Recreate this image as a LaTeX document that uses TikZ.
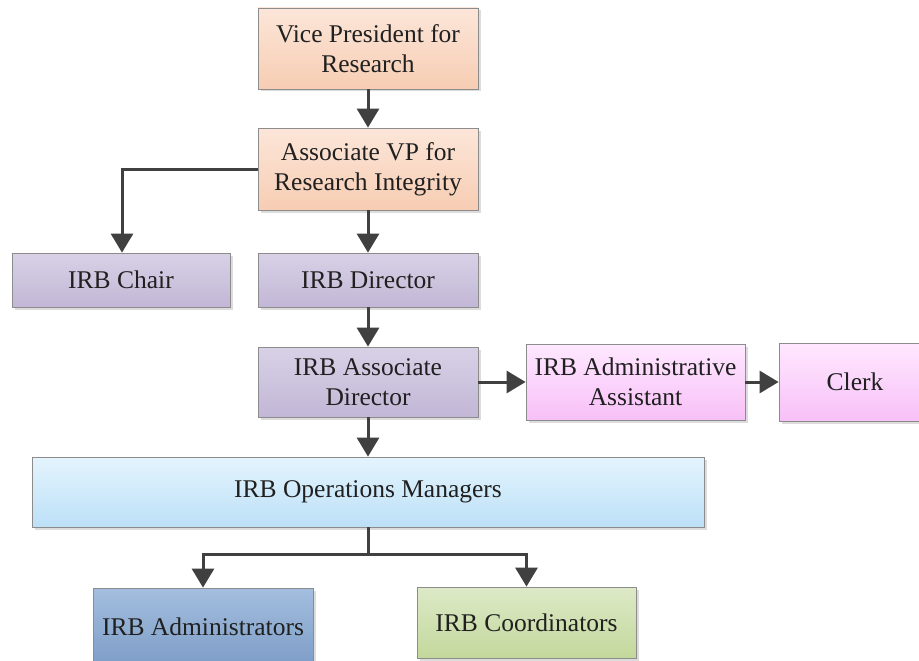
\documentclass[tikz,border=0pt]{standalone}
\usepackage{fontspec}
\setmainfont{Liberation Serif}
\usetikzlibrary{arrows.meta,shadows}
\definecolor{linegray}{HTML}{404040}
\definecolor{bordergray}{HTML}{8C8C8C}
\definecolor{peachT}{HTML}{FCE6D9}
\definecolor{peachB}{HTML}{F7CDB3}
\definecolor{purpT}{HTML}{D8D1E6}
\definecolor{purpB}{HTML}{C2B7D6}
\definecolor{pinkT}{HTML}{FFE8FF}
\definecolor{pinkB}{HTML}{F7C0F7}
\definecolor{ltblT}{HTML}{E4F4FD}
\definecolor{ltblB}{HTML}{BCE0F7}
\definecolor{stblT}{HTML}{A3BEDE}
\definecolor{stblB}{HTML}{7E9DC7}
\definecolor{grnT}{HTML}{DDE9C7}
\definecolor{grnB}{HTML}{C3D89C}
\definecolor{txt}{HTML}{202020}
\tikzset{
  box/.style={draw=bordergray, line width=0.8pt, inner sep=0pt, align=center,
    text=txt, font=\fontsize{25.5}{30}\selectfont,
    drop shadow={shadow xshift=2.5pt, shadow yshift=-2.5pt, fill=black!30, opacity=0.45}},
  peach/.style={box, top color=peachT, bottom color=peachB},
  purp/.style={box, top color=purpT, bottom color=purpB},
  pink/.style={box, top color=pinkT, bottom color=pinkB},
  ltbl/.style={box, top color=ltblT, bottom color=ltblB},
  stbl/.style={box, top color=stblT, bottom color=stblB},
  grn/.style={box, top color=grnT, bottom color=grnB},
  arr/.style={draw=linegray, line width=3pt, -{Triangle[width=22pt,length=19pt]}}
}
\begin{document}
\begin{tikzpicture}[x=1pt,y=-1pt]
\clip (0,0) rectangle (919,661);
\fill[white] (0,0) rectangle (919,661);
% nodes
\node[peach, minimum width=220pt, minimum height=81pt] (vp) at (368,48.5) {Vice President for\\Research};
\node[peach, minimum width=220pt, minimum height=82pt] (avp) at (368,169) {Associate VP for\\Research Integrity};
\node[purp, minimum width=218pt, minimum height=54pt] (chair) at (121,280) {IRB Chair};
\node[purp, minimum width=220pt, minimum height=54pt] (dir) at (368,280) {IRB Director};
\node[purp, minimum width=220pt, minimum height=70pt] (adir) at (368,382) {IRB Associate\\Director};
\node[pink, minimum width=219pt, minimum height=76pt] (asst) at (635.5,382) {IRB Administrative\\Assistant};
\node[pink, minimum width=160pt, minimum height=78pt, text width=150pt] (clerk) at (859,382) {\hspace*{-8pt}Clerk};
\node[ltbl, minimum width=672pt, minimum height=70pt] (ops) at (368,492) {IRB Operations Managers};
\node[stbl, minimum width=220pt, minimum height=78pt] (adm) at (203,627) {IRB Administrators};
\node[grn, minimum width=219pt, minimum height=71pt] (coord) at (526.5,622.5) {IRB Coordinators};
\coordinate (bend) at (122,169);
\coordinate (split) at (368,554);
% connectors
\draw[arr] (vp) -- (avp);
\draw[arr] (avp.west) -- (bend) -- (chair.north -| bend);
\draw[arr] (avp) -- (dir);
\draw[arr] (dir) -- (adir);
\draw[arr] (adir) -- (asst);
\draw[arr] (asst) -- (clerk.west);
\draw[arr] (adir) -- (ops);
\draw[arr] (ops.south) -- (split) -| (adm.north);
\draw[arr] (split) -| (coord.north);
\end{tikzpicture}
\end{document}
